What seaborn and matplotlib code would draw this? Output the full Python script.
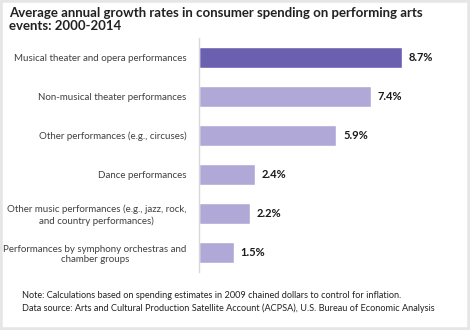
import matplotlib
matplotlib.use("Agg")
import matplotlib.pyplot as plt
import seaborn as sns
import pandas as pd
from matplotlib.patches import Rectangle

categories = [
    "Musical theater and opera performances",
    "Non-musical theater performances",
    "Other performances (e.g., circuses)",
    "Dance performances",
    "Other music performances (e.g., jazz, rock,\nand country performances)",
    "Performances by symphony orchestras and\nchamber groups",
]
values = [8.7, 7.4, 5.9, 2.4, 2.2, 1.5]
value_labels = ["8.7%", "7.4%", "5.9%", "2.4%", "2.2%", "1.5%"]
title = "Average annual growth rates in consumer spending on performing arts\nevents: 2000-2014"
note = ("Note: Calculations based on spending estimates in 2009 chained dollars to control for inflation.\n"
        "Data source: Arts and Cultural Production Satellite Account (ACPSA), U.S. Bureau of Economic Analysis")

sns.set_style("white")
plt.rcParams["font.family"] = ["Lato", "DejaVu Sans"]

df = pd.DataFrame({"category": categories, "value": values})
colors = ["#6B5FB0"] + ["#B0A8D6"] * (len(values) - 1)

W, H = 470, 330
fig = plt.figure(figsize=(W / 100, H / 100), dpi=100)
fig.patch.set_facecolor("white")
fig.add_artist(Rectangle((0, 0), 1, 1, transform=fig.transFigure, fill=False,
                         edgecolor="#E6E6E6", linewidth=4))

ax = fig.add_axes([199 / W, 1 - 272 / H, (453 - 199) / W, (272 - 38) / H])
sns.barplot(data=df, x="value", y="category", hue="category", palette=colors,
            legend=False, width=0.52, ax=ax, saturation=1)
ax.set_xlim(0, 10.9)
ax.set_ylim(len(values) - 0.5, -0.5)
ax.set_xlabel("")
ax.set_ylabel("")
ax.set_xticks([])
for s in ["top", "right", "bottom"]:
    ax.spines[s].set_visible(False)
ax.spines["left"].set_color("#D9D9D9")
ax.spines["left"].set_linewidth(1)
ax.tick_params(axis="y", length=0, pad=9, labelsize=7, labelcolor="#404040")
for lbl in ax.get_yticklabels():
    lbl.set_horizontalalignment("right")
    lbl.set_multialignment("center")

for i, (v, t) in enumerate(zip(values, value_labels)):
    ax.text(v + 0.28, i, t, va="center", ha="left", fontsize=8,
            fontweight="bold", color="#1a1a1a")

fig.text(9 / W, 1 - 7 / H, title, ha="left", va="top", fontsize=9.5,
         fontweight="bold", color="#222222", linespacing=1.15)
fig.text(22 / W, 1 - 291 / H, note, ha="left", va="top", fontsize=6.6,
         color="#222222", linespacing=1.4)

fig.savefig("out.png", dpi=100)
